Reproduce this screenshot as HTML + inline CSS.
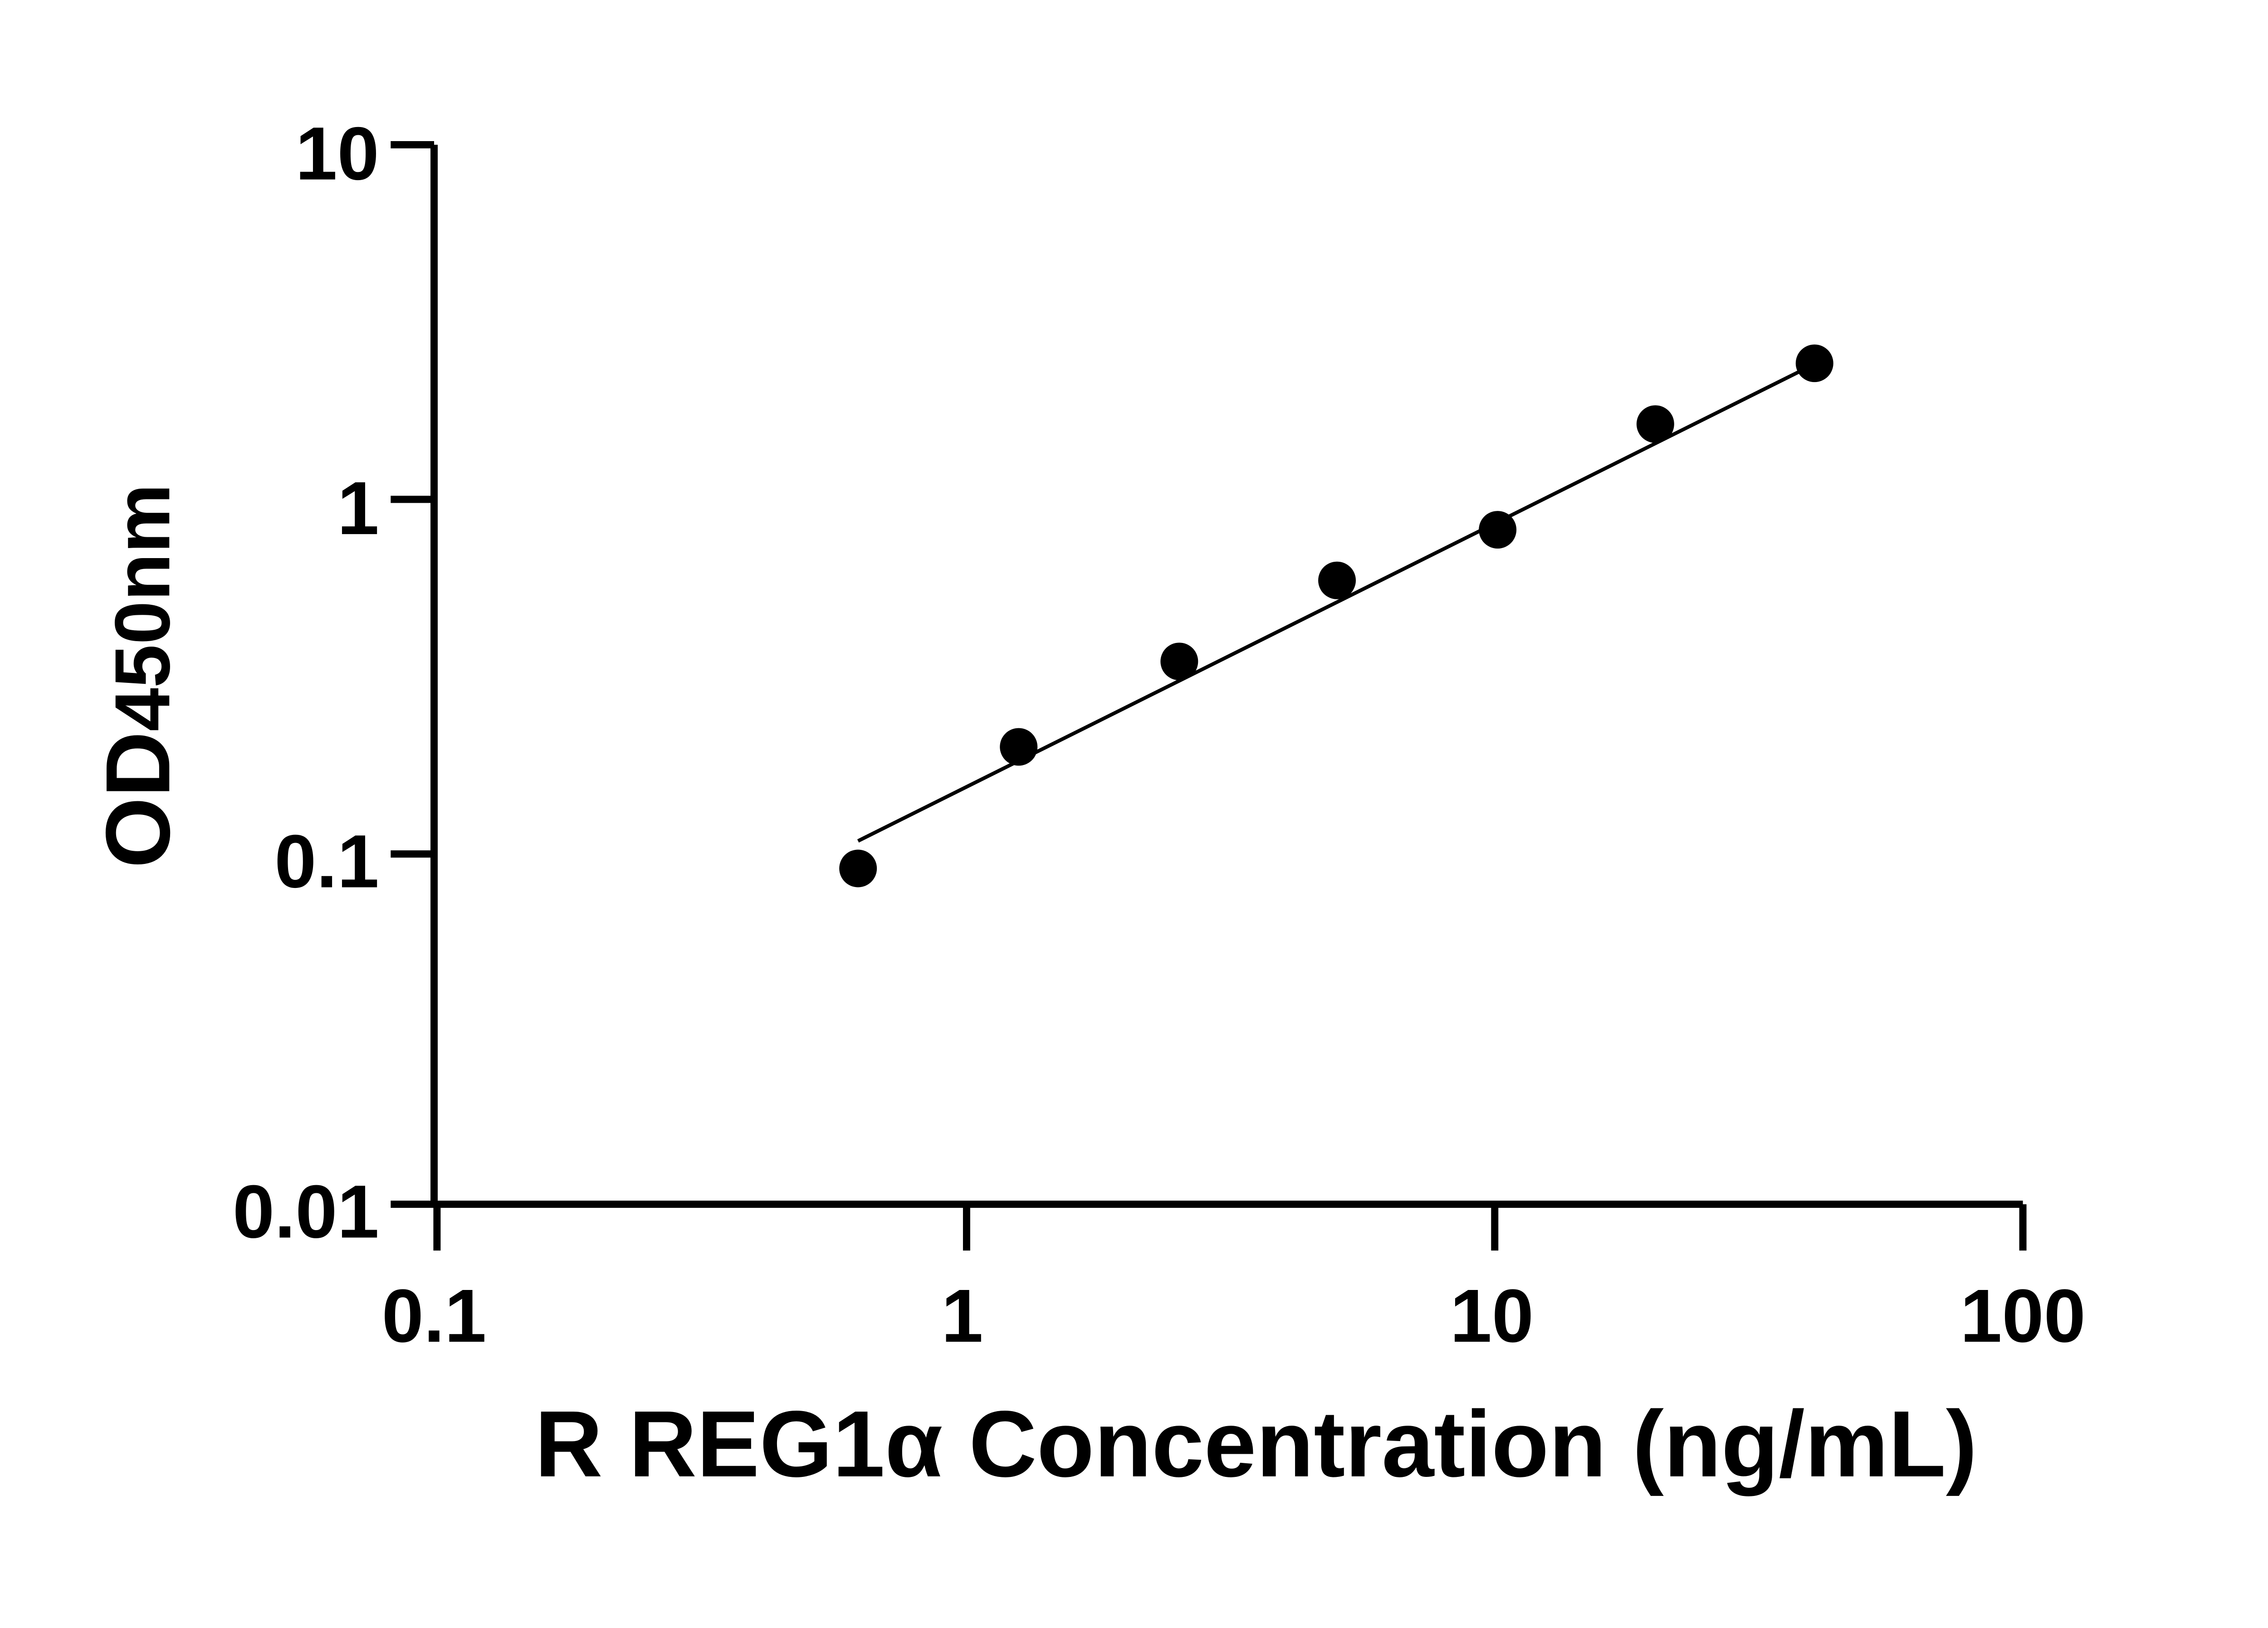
<!DOCTYPE html>
<html><head><style>html,body{margin:0;padding:0;background:#fff;}svg{display:block;}</style></head>
<body>
<svg width="5142" height="3588" viewBox="0 0 5142 3588" xmlns="http://www.w3.org/2000/svg">
<g transform="scale(3.19)" font-family="'Liberation Sans', sans-serif" font-weight="bold" fill="#000">
<g stroke="#000" stroke-width="5" fill="none">
<path d="M300,100 V832 H1398"/>
<path d="M270,100 H300 M270,345 H300 M270,590 H300 M270,832 H300"/>
<path d="M302,832 V864 M668,832 V864 M1033,832 V864 M1398,832 V864"/>
</g>
<line x1="593" y1="581" x2="1245" y2="256" stroke="#000" stroke-width="2.5"/>
<g>
<circle cx="593" cy="600" r="13"/>
<circle cx="704" cy="516" r="13"/>
<circle cx="815" cy="457" r="13"/>
<circle cx="924" cy="401" r="13"/>
<circle cx="1035" cy="366" r="13"/>
<circle cx="1144" cy="293" r="13"/>
<circle cx="1254" cy="251" r="13"/>
</g>
<g font-size="52" text-anchor="end">
<text x="262" y="124">10</text>
<text x="262" y="369">1</text>
<text x="262" y="613">0.1</text>
<text x="262" y="855">0.01</text>
</g>
<g font-size="52" text-anchor="middle">
<text x="300" y="927">0.1</text>
<text x="665" y="927">1</text>
<text x="1031" y="927">10</text>
<text x="1398" y="927">100</text>
</g>
<text x="868" y="1020" font-size="65" text-anchor="middle">R REG1α Concentration (ng/mL)</text>
<text transform="translate(117,467) rotate(-90)" font-size="63" text-anchor="middle">OD<tspan font-size="54">450nm</tspan></text>
</g>
</svg>
</body></html>
